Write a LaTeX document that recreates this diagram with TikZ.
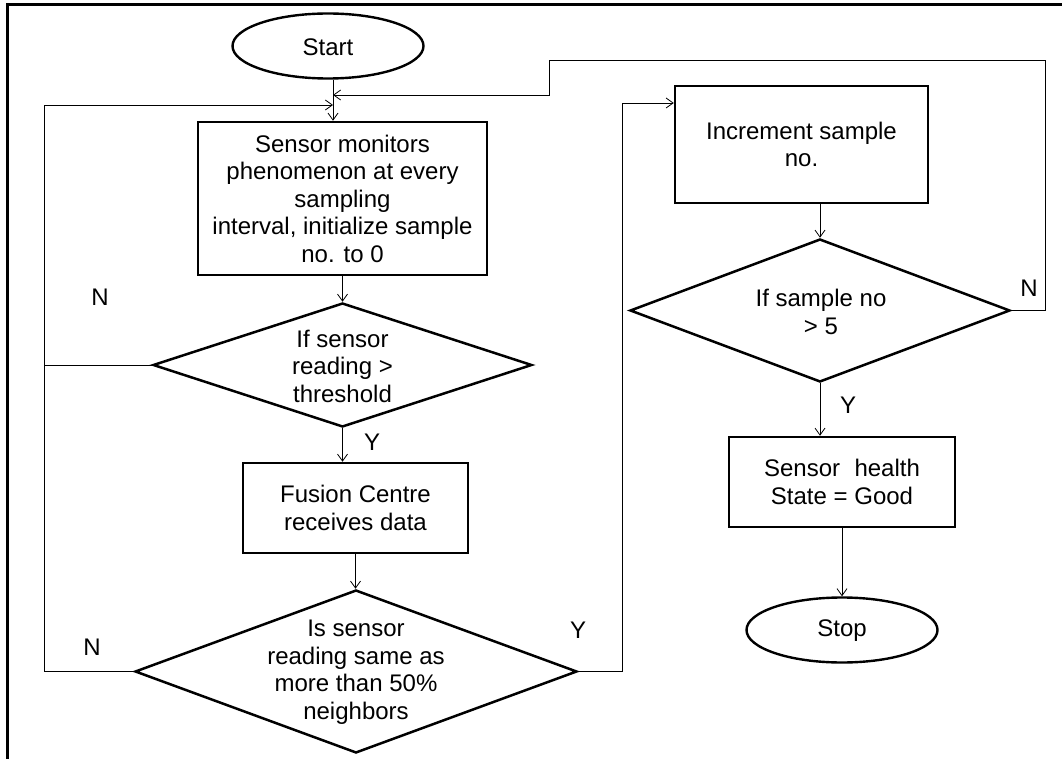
\documentclass[tikz,border=0pt]{standalone}
\usepackage{fontspec}
\setmainfont{Liberation Sans}
\usetikzlibrary{shapes.geometric,arrows.meta}
\begin{document}
\begin{tikzpicture}[x=1pt,y=-1pt,
  every node/.style={font=\fontsize{24}{27.5}\selectfont, inner sep=0pt},
  procbox/.style={draw, line width=2.5pt, rectangle, align=center},
  termin/.style={draw, line width=2.4pt, ellipse, minimum width=191pt, minimum height=65pt},
  decis/.style={draw, line width=2.5pt, diamond},
  txt/.style={align=center},
  conn/.style={line width=0.8pt},
  arr/.style={conn, -{Straight Barb[length=7pt,width=10pt]}},
  lbl/.style={}
]
\useasboundingbox (0,0) rectangle (1062,759);
% frame (top and left edges)
\draw[line width=3pt] (7,759) -- (7,5) -- (1062,5);

% nodes
\node[termin] (start) at (328,46) {};
\node[txt] at (328,47) {Start};
\node[procbox, minimum width=289pt, minimum height=153pt] (b1) at (342.5,198.5) {Sensor monitors\\phenomenon at every\\sampling\\interval, initialize sample\\no. to 0};
\node[decis, minimum width=379pt, minimum height=124pt] (d1) at (342.5,365) {};
\node[txt] at (342.5,366) {If sensor\\reading >\\threshold};
\node[procbox, minimum width=225pt, minimum height=90pt] (fc) at (355.5,508) {Fusion Centre\\receives data};
\node[decis, minimum width=442pt, minimum height=163pt] (d2) at (356,671.5) {};
\node[txt] at (356,672) {Is sensor\\reading same as\\more than 50\%\\neighbors};
\node[procbox, minimum width=253pt, minimum height=117pt] (b2) at (801.5,144.5) {Increment sample\\no.};
\node[decis, minimum width=380pt, minimum height=143pt] (d3) at (820,310.5) {};
\node[txt] at (821,312) {If sample no\\> 5};
\node[procbox, minimum width=226pt, minimum height=90pt] (b3) at (842,482) {Sensor\hspace{0.6em}health\\State = Good};
\node[termin] (stop) at (842,630) {};
\node[txt] at (842,631) {Stop};

% labels
\node[lbl] (n1) at (100,297) {N};
\node[lbl] (n2) at (92,647) {N};
\node[lbl] (y1) at (372,442) {Y};
\node[lbl] (y2) at (578,630) {Y};
\node[lbl] (n3) at (1029,288) {N};
\node[lbl] (y3) at (848,405) {Y};

% helper coordinates for loops
\coordinate (Lcol) at (44,105);
\coordinate (Rtop) at (1045,60);
\coordinate (Rstep) at (549,95);
\coordinate (Ycol) at (622,103);
\coordinate (Sx) at (333,0);

% main flow connectors
\draw[arr] (start.south -| Sx) -- (Sx |- b1.north);
\draw[arr] (b1.south) -- (d1.north);
\draw[arr] (d1.south) -- (d1.south |- fc.north);
\draw[arr] (fc.south) -- (fc.south |- d2.north);
\draw[arr] (d3.north |- b2.south) -- (d3.north);
\draw[arr] (d3.south) -- (d3.south |- b3.north);
\draw[arr] (b3.south) -- (stop.north);

% N loops back to the first box
\draw[conn] (d1.west) -- (d1.west -| Lcol);
\draw[arr] (d2.west) -- (d2.west -| Lcol) -- (Lcol) -- (Lcol -| Sx);
\draw[arr] (d3.east) -- (d3.east -| Rtop) -- (Rtop) -- (Rtop -| Rstep) -- (Rstep) -- (Rstep -| Sx);

% Y path to increment box
\draw[arr] (d2.east) -- (d2.east -| Ycol) -- (Ycol) -- (Ycol -| b2.west);
\end{tikzpicture}
\end{document}
